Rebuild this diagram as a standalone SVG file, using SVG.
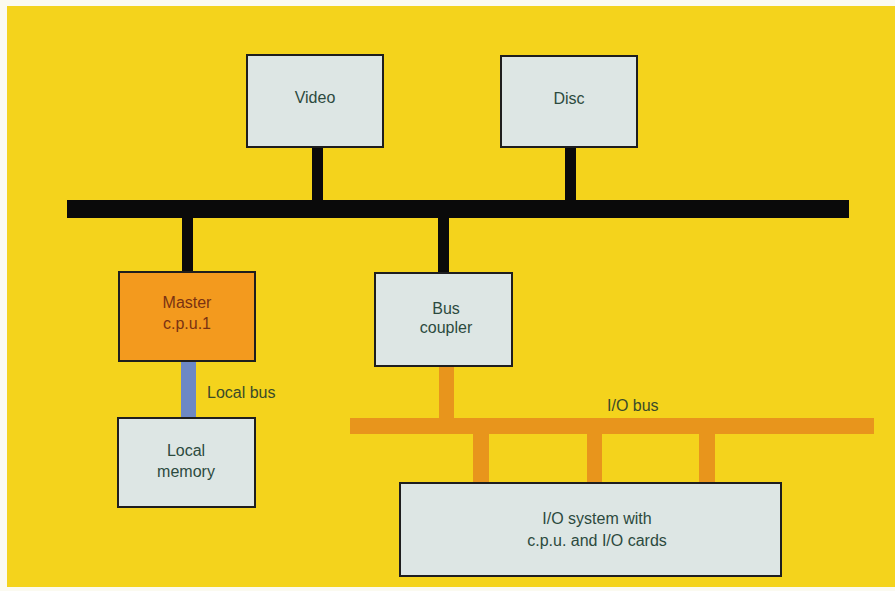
<svg xmlns="http://www.w3.org/2000/svg" width="895" height="591" viewBox="0 0 895 591">
<style>
.box{fill:#dde6e4;stroke:#1e1e1e;stroke-width:2}
.t{font-family:"Liberation Sans",Arial,sans-serif;font-size:16px;fill:#2c4a3e;text-anchor:middle}
.lbl{font-family:"Liberation Sans",Arial,sans-serif;font-size:16px;fill:#3a4a2a}
</style>
<rect x="0" y="0" width="895" height="591" fill="#fbfaf0"/>
<rect x="7" y="6" width="888" height="581" fill="#f4d31c"/>
<g id="connectors">
<rect x="67" y="200" width="782" height="18" fill="#0a0a0a"/>
<rect x="312" y="146" width="11" height="56" fill="#0a0a0a"/>
<rect x="565" y="146" width="11" height="56" fill="#0a0a0a"/>
<rect x="182" y="216" width="11" height="57" fill="#0a0a0a"/>
<rect x="438" y="216" width="11" height="57" fill="#0a0a0a"/>
<rect x="181" y="361" width="15" height="57" fill="#6d88c4"/>
<rect x="350" y="418" width="524" height="16" fill="#e8951c"/>
<rect x="439" y="366" width="15" height="54" fill="#e8951c"/>
<rect x="473" y="432" width="16" height="51" fill="#e8951c"/>
<rect x="587" y="432" width="15" height="51" fill="#e8951c"/>
<rect x="699" y="432" width="16" height="51" fill="#e8951c"/>
<text class="lbl" x="207" y="398">Local bus</text>
<text class="lbl" x="607" y="411">I/O bus</text>
</g>
<g id="video"><rect class="box" x="247" y="55" width="136" height="92"/><text class="t" x="315" y="103">Video</text></g>
<g id="disc"><rect class="box" x="501" y="56" width="136" height="91"/><text class="t" x="569" y="104">Disc</text></g>
<g id="master"><rect x="119" y="272" width="136" height="89" fill="#f39a1e" stroke="#1e1e1e" stroke-width="2"/><text class="t" x="187" y="308" style="fill:#7a3212">Master</text><text class="t" x="187" y="329" style="fill:#7a3212">c.p.u.1</text></g>
<g id="local-memory"><rect class="box" x="118" y="418" width="137" height="89"/><text class="t" x="186" y="456">Local</text><text class="t" x="186" y="477">memory</text></g>
<g id="bus-coupler"><rect class="box" x="375" y="273" width="137" height="93"/><text class="t" x="446" y="314">Bus</text><text class="t" x="446" y="333">coupler</text></g>
<g id="io-system"><rect class="box" x="400" y="483" width="381" height="93"/><text class="t" x="597" y="524">I/O system with</text><text class="t" x="597" y="546">c.p.u. and I/O cards</text></g>
</svg>
